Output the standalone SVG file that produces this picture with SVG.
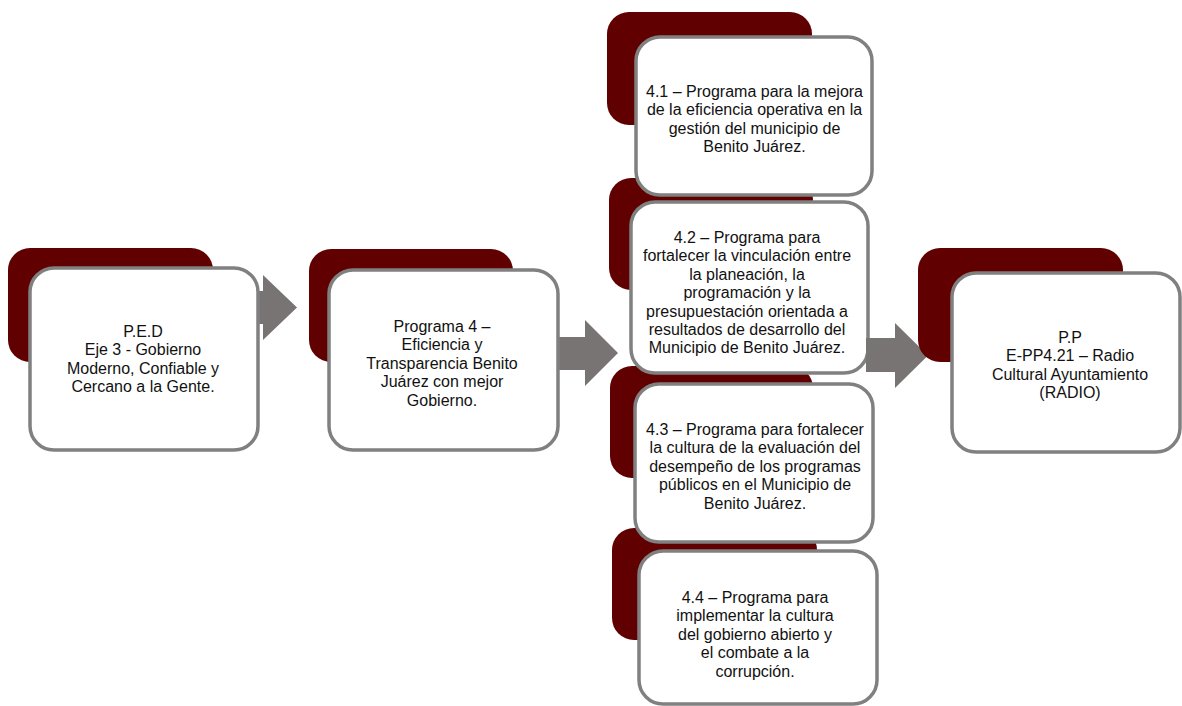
<svg xmlns="http://www.w3.org/2000/svg" width="1182" height="706" viewBox="0 0 1182 706">
<style>
.back{fill:#600000;}
.box{fill:#ffffff;stroke:#808080;stroke-width:3.5;}
.arrow{fill:#787473;}
text{font-family:"Liberation Sans",Arial,sans-serif;font-size:16px;fill:#111111;text-anchor:middle;}
</style>
<rect width="1182" height="706" fill="#ffffff"/>
<g id="connectors">
<polygon class="arrow" points="250,291 263,291 263,275 297,307.5 263,340 263,324 250,324"/>
<polygon class="arrow" points="550,337 585,337 585,320 618,353 585,386 585,370 550,370"/>
</g>
<g id="node-ped">
<rect class="back" x="8" y="248" width="205" height="114" rx="22"/>
<rect class="box" x="30" y="268" width="228" height="182" rx="24"/>
<text x="143" y="337">P.E.D</text>
<text x="143" y="355.4">Eje 3 - Gobierno</text>
<text x="143" y="373.8">Moderno, Confiable y</text>
<text x="143" y="392.2">Cercano a la Gente.</text>
</g>
<g id="node-programa4">
<rect class="back" x="309" y="249" width="204" height="113" rx="22"/>
<rect class="box" x="329" y="270" width="229" height="180" rx="24"/>
<text x="442" y="332">Programa 4 –</text>
<text x="442" y="350.4">Eficiencia y</text>
<text x="442" y="368.8">Transparencia Benito</text>
<text x="442" y="387.2">Juárez con mejor</text>
<text x="442" y="405.6">Gobierno.</text>
</g>
<g id="node-backs-stack">
<rect class="back" x="607" y="12" width="205" height="113" rx="22"/>
<rect class="back" x="609" y="178" width="204" height="112" rx="22"/>
<rect class="back" x="610" y="366" width="203" height="112" rx="22"/>
<rect class="back" x="612" y="528" width="205" height="112" rx="22"/>
</g>
<g id="node-4-1">
<rect class="box" x="636" y="37" width="236" height="158" rx="24"/>
<text x="754.5" y="97">4.1 – Programa para la mejora</text>
<text x="754.5" y="115.4">de la eficiencia operativa en la</text>
<text x="754.5" y="133.8">gestión del municipio de</text>
<text x="754.5" y="152.2">Benito Juárez.</text>
</g>
<g id="node-4-2">
<rect class="box" x="631" y="202" width="237" height="171" rx="24"/>
<text x="747" y="243">4.2 – Programa para</text>
<text x="747" y="261.4">fortalecer la vinculación entre</text>
<text x="747" y="279.8">la planeación, la</text>
<text x="747" y="298.2">programación y la</text>
<text x="747" y="316.6">presupuestación orientada a</text>
<text x="747" y="335">resultados de desarrollo del</text>
<text x="747" y="353.4">Municipio de Benito Juárez.</text>
</g>
<g id="node-4-3">
<rect class="box" x="635" y="384" width="238" height="158" rx="24"/>
<text x="755" y="435">4.3 – Programa para fortalecer</text>
<text x="755" y="453.4">la cultura de la evaluación del</text>
<text x="755" y="471.8">desempeño de los programas</text>
<text x="755" y="490.2">públicos en el Municipio de</text>
<text x="755" y="508.6">Benito Juárez.</text>
</g>
<g id="node-4-4">
<rect class="box" x="639" y="551" width="238" height="153" rx="24"/>
<text x="755" y="603">4.4 – Programa para</text>
<text x="755" y="621.4">implementar la cultura</text>
<text x="755" y="639.8">del gobierno abierto y</text>
<text x="755" y="658.2">el combate a la</text>
<text x="755" y="676.6">corrupción.</text>
</g>
<g id="connectors-2">
<polygon class="arrow" points="866,338 895,338 895,323 928,355.5 895,388 895,372 866,372"/>
</g>
<g id="node-pp">
<rect class="back" x="918" y="248" width="205" height="114" rx="22"/>
<rect class="box" x="952" y="273" width="228" height="179" rx="24"/>
<text x="1070" y="343">P.P</text>
<text x="1070" y="361.4">E-PP4.21 – Radio</text>
<text x="1070" y="379.8">Cultural Ayuntamiento</text>
<text x="1070" y="398.2">(RADIO)</text>
</g>
</svg>
